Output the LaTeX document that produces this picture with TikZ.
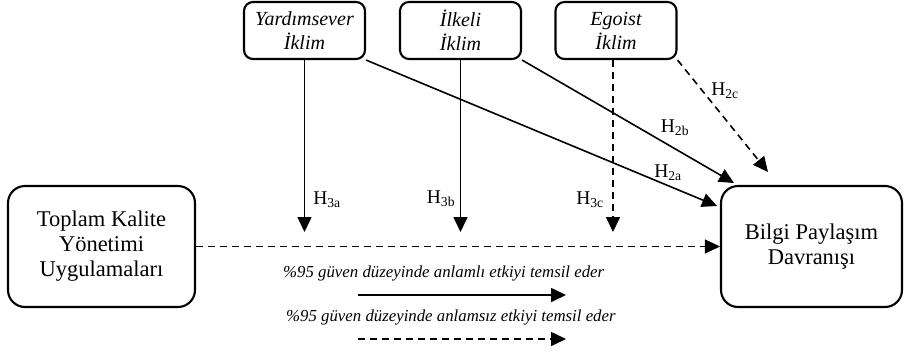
\documentclass[tikz,border=0pt]{standalone}
\usepackage{fontspec}
\setmainfont{Liberation Serif}
\usetikzlibrary{arrows.meta}
\begin{document}
\begin{tikzpicture}[x=1pt,y=-1pt]
        \tikzset{
          topbox/.style={draw,line width=2.1pt,rounded corners=9pt,
            minimum width=121pt,minimum height=57pt,inner sep=0pt,align=center,
            font=\fontsize{20}{24}\selectfont\itshape},
          bigbox/.style={draw,line width=2.1pt,rounded corners=17pt,
            minimum height=121pt,inner sep=0pt,align=center,
            font=\fontsize{22.5}{25}\selectfont},
          link/.style={line width=1.6pt,-{Triangle[length=15pt,width=14pt]}},
          nolink/.style={link,dash pattern=on 7pt off 5pt},
          hlabel/.style={font=\fontsize{19.5}{22}\selectfont,inner sep=0pt},
          legend/.style={font=\fontsize{16.8}{20}\selectfont\itshape,inner sep=0pt,anchor=west}
        }
        \useasboundingbox (0,0) rectangle (904,351);
        %CLIMATE BOXES
        \foreach \name/\x/\txt in {yard/304.5/Yardımsever,ilke/460.5/İlkeli,ego/616/Egoist}{
            \node[topbox] (\name) at (\x,30.5) {\txt\\İklim};
        }
        %MAIN BOXES
        \node[bigbox,minimum width=187pt] (tky) at (101.5,246.5) {Toplam Kalite\\Yönetimi\\Uygulamaları};
        \node[bigbox,minimum width=181pt] (bpd) at (811.5,246.5) {Bilgi Paylaşım\\Davranışı};
        %END POINTS
        \coordinate (e3a) at (304.5,232);
        \coordinate (e3b) at (460.5,232);
        \coordinate (e3c) at (613,232);
        \coordinate (e2a) at (717,206);
        \coordinate (e2b) at (734,183);
        \coordinate (e2c) at (768,172);
        %H3
        \draw[link] (yard.south) -- (e3a);
        \draw[link] (ilke.south) -- (e3b);
        \draw[nolink] (ego.south -| e3c) -- (e3c);
        %H2
        \draw[link] (yard.south east) -- (e2a);
        \draw[link] (ilke.south east) -- (e2b);
        \draw[nolink] (ego.south east) -- (e2c);
        %H1
        \draw[nolink] (tky.east) -- (bpd.west);
        %LABELS
        \foreach \lab/\x/\y in {3a/327/200,3b/441/199,3c/590/200,2a/668/173,2b/675/128,2c/725/91}{
            \node[hlabel] (h\lab) at (\x,\y) {H\textsubscript{\lab}};
        }
        %LEGEND
        \node[legend] (leg1) at (283,273) {\%95 güven düzeyinde anlamlı etkiyi temsil eder};
        \coordinate (s1) at (358,295);
        \coordinate (t1) at (566,295);
        \draw[link] (s1) -- (t1);
        \node[legend] (leg2) at (286,317) {\%95 güven düzeyinde anlamsız etkiyi temsil eder};
        \coordinate (s2) at (358,339);
        \coordinate (t2) at (566,339);
        \draw[nolink] (s2) -- (t2);
    \end{tikzpicture}
\end{document}
